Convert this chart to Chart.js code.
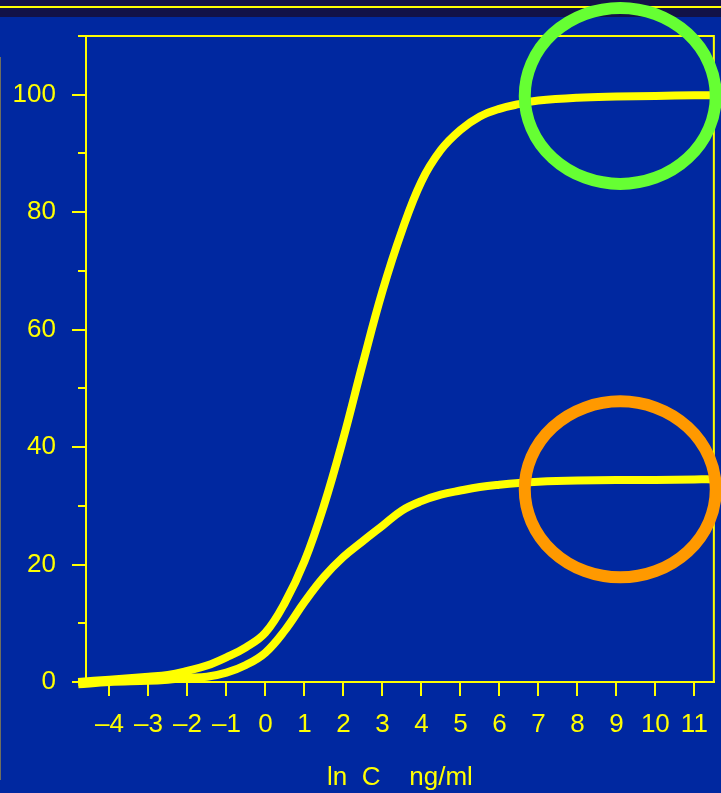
<!DOCTYPE html>
<html>
<head>
<meta charset="utf-8">
<script src="https://cdn.jsdelivr.net/npm/chart.js@4.4.1/dist/chart.umd.min.js"></script>
<style>
  html, body { margin: 0; padding: 0; }
  body { width: 721px; height: 793px; background: #0028a0; position: relative; overflow: hidden; }
  #band { position: absolute; left: 0; top: 0; width: 721px; height: 17px; background: #121248; }
  #band div { position: absolute; left: 0; top: 6px; width: 721px; height: 2px; background: #ffff00; }
  #edge { position: absolute; left: 0; top: 57px; width: 1px; height: 723px; background: #6e6e5e; }
  #wrap { position: absolute; left: 0; top: 0; width: 721px; height: 793px; }
</style>
</head>
<body>
<div id="band"><div></div></div>
<div id="edge"></div>
<div id="wrap"><canvas id="chart"></canvas></div>
<script>
// data
var lnC = [-4.8, -4, -3, -2.5, -2, -1.5, -1, -0.5, 0, 0.5, 1, 1.5, 2, 2.5, 3, 3.5, 4, 4.5, 5, 5.5, 6, 6.5, 7, 8, 9, 10, 11, 11.5];
var upperCurve = [0.0, 0.4, 0.9, 1.2, 1.9, 2.8, 4.2, 5.9, 8.4, 13.5, 20.5, 30, 41.5, 54.3, 66.5, 76.8, 85.2, 90.6, 94, 96.3, 97.6, 98.4, 99, 99.5, 99.7, 99.8, 99.9, 99.9];
var lowerCurve = [-0.4, 0.0, 0.2, 0.4, 0.7, 0.9, 1.6, 2.9, 5.0, 8.8, 13.6, 17.9, 21.3, 24.0, 26.6, 29.2, 30.8, 31.9, 32.6, 33.2, 33.6, 33.9, 34.1, 34.3, 34.4, 34.4, 34.5, 34.5];

var xTicks = [-4, -3, -2, -1, 0, 1, 2, 3, 4, 5, 6, 7, 8, 9, 10, 11];
var yTicks = [0, 20, 40, 60, 80, 100];
var yMinorTicks = [10, 30, 50, 70, 90, 110];

// highlight rings (centres in data units)
var ringX = [9.1, 9.1];
var ringY = [99.8, 32.8];
var ringColors = ["#66ff33", "#ff9900"];

var yellow = "#ffff00";

function toPoints(ys) {
  return lnC.map(function(x, i) { return { x: x, y: ys[i] }; });
}

var extras = {
  id: "extras",
  afterDraw: function(chart) {
    var ctx = chart.ctx;
    var a = chart.chartArea;
    var xs = chart.scales.x, ys = chart.scales.y;
    ctx.save();
    ctx.strokeStyle = yellow;
    ctx.lineWidth = 2;
    ctx.beginPath();
    ctx.moveTo(a.left, a.top);
    ctx.lineTo(a.right, a.top);
    ctx.lineTo(a.right, a.bottom);
    yMinorTicks.forEach(function(v) {
      var py = Math.round(ys.getPixelForValue(v));
      ctx.moveTo(a.left - 8, py);
      ctx.lineTo(a.left, py);
    });
    ctx.stroke();

    ringX.forEach(function(cx, i) {
      ctx.strokeStyle = ringColors[i];
      ctx.lineWidth = 12;
      ctx.beginPath();
      ctx.ellipse(xs.getPixelForValue(cx), ys.getPixelForValue(ringY[i]), 95.5, 88, 0, 0, 2 * Math.PI);
      ctx.stroke();
    });
    ctx.restore();
  }
};

var ctx = document.getElementById("chart").getContext("2d");
new Chart(ctx, {
  type: "line",
  data: {
    datasets: [
      { label: "upper", data: toPoints(upperCurve), borderColor: yellow, borderWidth: 8, pointRadius: 0, tension: 0.4, clip: false, fill: false },
      { label: "lower", data: toPoints(lowerCurve), borderColor: yellow, borderWidth: 8, pointRadius: 0, tension: 0.4, clip: false, fill: false }
    ]
  },
  options: {
    responsive: true,
    maintainAspectRatio: false,
    animation: false,
    events: [],
    layout: { padding: { top: 36, right: 5, left: 0, bottom: 0 } },
    plugins: { legend: { display: false }, tooltip: { enabled: false } },
    scales: {
      x: {
        type: "linear",
        min: -4.6,
        max: 11.5,
        afterBuildTicks: function(scale) {
          scale.ticks = xTicks.map(function(v) { return { value: v }; });
        },
        afterFit: function(scale) { scale.height = 111; },
        border: { display: true, color: yellow, width: 2 },
        grid: { drawOnChartArea: false, drawTicks: true, tickLength: 14, color: yellow, lineWidth: 2 },
        ticks: {
          color: yellow,
          padding: 13,
          maxRotation: 0,
          autoSkip: false,
          font: { family: "Liberation Sans", size: 26 },
          callback: function(v) { return v < 0 ? "\u2013" + Math.abs(v) : String(v); }
        },
        title: {
          display: true,
          text: "ln  C    ng/ml",
          color: yellow,
          padding: { top: 0, bottom: 0 },
          font: { family: "Liberation Sans", size: 26 }
        }
      },
      y: {
        min: 0,
        max: 110,
        afterBuildTicks: function(scale) {
          scale.ticks = yTicks.map(function(v) { return { value: v }; });
        },
        afterFit: function(scale) { scale.width = 86; },
        border: { display: true, color: yellow, width: 2 },
        grid: { drawOnChartArea: false, drawTicks: true, tickLength: 14, color: yellow, lineWidth: 2 },
        ticks: {
          color: yellow,
          padding: 16,
          font: { family: "Liberation Sans", size: 26 }
        }
      }
    }
  },
  plugins: [extras]
});
</script>
</body>
</html>
